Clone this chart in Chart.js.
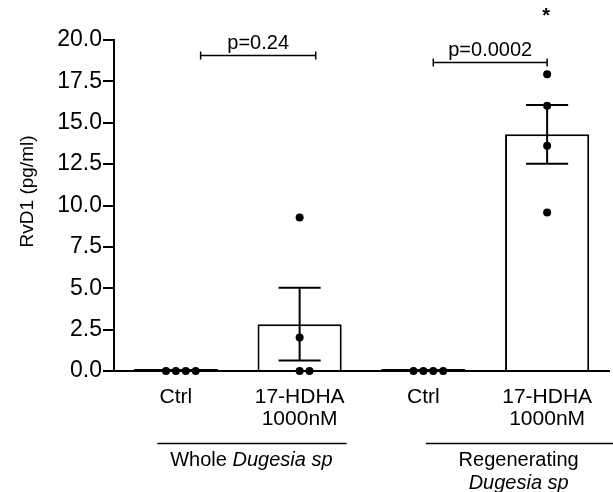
<!DOCTYPE html>
<html>
<head>
<meta charset="utf-8">
<script src="https://cdn.jsdelivr.net/npm/chart.js@4.4.1/dist/chart.umd.min.js"></script>
<style>
  body { margin: 0; background: #fff; }
</style>
</head>
<body>
<canvas id="rvd1Chart" width="613" height="492"></canvas>
<script>
// bar categories (multi-line labels)
const categories = [['Ctrl'], ['17-HDHA', '1000nM'], ['Ctrl'], ['17-HDHA', '1000nM']];
// mean and SEM per bar
const barMeans = [0, 2.83, 0, 14.3];
const barSem = [0, 2.2, 0, 1.78];
// individual animals: which bar, value, and Prism-style side step
const pointGroup = [0, 0, 0, 0, 1, 1, 1, 1, 2, 2, 2, 2, 3, 3, 3, 3];
const pointValues = [0, 0, 0, 0, 9.28, 2.02, 0, 0, 0, 0, 0, 0, 17.93, 16.03, 13.61, 9.58];
const pointStep = [-1, 0, 1, 2, 0, 0, 0, 1, -1, 0, 1, 2, 0, 0, 0, 0];
// y axis
const yMin = 0;
const yMax = 20;
const yStep = 2.5;
const yTitle = 'RvD1 (pg/ml)';
// comparisons: from bar, to bar, label
const compareFrom = [0, 2];
const compareTo = [1, 3];
const compareLabels = ['p=0.24', 'p=0.0002'];
const starBar = 3;
// group captions under the axis
const groupPlain = ['Whole ', 'Regenerating'];
const groupItalic = ['Dugesia sp', 'Dugesia sp'];

const FONT = '"Liberation Sans", Arial, Helvetica, sans-serif';
const STEP = 0.08; // one dot spacing in category units

const points = pointValues.map((v, i) => ({ x: pointGroup[i] + pointStep[i] * STEP, y: v }));

// error bars, brackets, captions, axis title
const annotations = {
  id: 'annotations',
  afterDatasetsDraw(chart) {
    const ctx = chart.ctx;
    const xs = chart.scales.xp;
    const ys = chart.scales.y;
    ctx.save();
    ctx.strokeStyle = '#000';
    ctx.fillStyle = '#000';
    ctx.lineWidth = 2;

    // SEM bars
    barMeans.forEach((m, i) => {
      if (!barSem[i]) return;
      const cx = xs.getPixelForValue(i);
      const hw = xs.getPixelForValue(i + 0.17) - cx;
      const top = ys.getPixelForValue(m + barSem[i]);
      const bot = ys.getPixelForValue(m - barSem[i]);
      ctx.beginPath();
      ctx.moveTo(cx, top); ctx.lineTo(cx, bot);
      ctx.moveTo(cx - hw, top); ctx.lineTo(cx + hw, top);
      ctx.moveTo(cx - hw, bot); ctx.lineTo(cx + hw, bot);
      ctx.stroke();
    });

    // p-value brackets
    const bracketY = [19.1, 18.7];
    const bracketStart = [0.2, 0.08];
    const bracketEnd = [0.13, 0];
    ctx.lineWidth = 1.5;
    ctx.font = '20px ' + FONT;
    ctx.textAlign = 'center';
    ctx.textBaseline = 'alphabetic';
    compareLabels.forEach((lab, k) => {
      const x1 = xs.getPixelForValue(compareFrom[k] + bracketStart[k]);
      const x2 = xs.getPixelForValue(compareTo[k] + bracketEnd[k]);
      const y = Math.round(ys.getPixelForValue(bracketY[k])) + 0.5;
      ctx.beginPath();
      ctx.moveTo(x1, y); ctx.lineTo(x2, y);
      ctx.moveTo(x1, y - 4); ctx.lineTo(x1, y + 4);
      ctx.moveTo(x2, y - 4); ctx.lineTo(x2, y + 4);
      ctx.stroke();
      ctx.fillText(lab, (x1 + x2) / 2, y - 7);
    });

    // significance star
    ctx.font = 'bold 20px ' + FONT;
    ctx.fillText('*', xs.getPixelForValue(starBar) - 1, 22);

    // group lines and captions
    const area = chart.chartArea;
    const lineY = area.bottom + 72.5;
    ctx.lineWidth = 1.5;
    ctx.beginPath();
    ctx.moveTo(xs.getPixelForValue(-0.15), lineY);
    ctx.lineTo(xs.getPixelForValue(1.38), lineY);
    ctx.moveTo(xs.getPixelForValue(2.02), lineY);
    ctx.lineTo(chart.width, lineY);
    ctx.stroke();

    ctx.textBaseline = 'middle';
    ctx.textAlign = 'left';
    // left group: plain + italic on one line
    const plainFont = '20px ' + FONT;
    const italFont = 'italic 20px ' + FONT;
    ctx.font = plainFont;
    const w1 = ctx.measureText(groupPlain[0]).width;
    ctx.font = italFont;
    const w2 = ctx.measureText(groupItalic[0]).width;
    let gx = xs.getPixelForValue(0.61) - (w1 + w2) / 2;
    ctx.font = plainFont;
    ctx.fillText(groupPlain[0], gx, area.bottom + 89);
    ctx.font = italFont;
    ctx.fillText(groupItalic[0], gx + w1, area.bottom + 89);
    // right group: two lines
    ctx.textAlign = 'center';
    const rx = xs.getPixelForValue(2.77);
    ctx.font = plainFont;
    ctx.fillText(groupPlain[1], rx, area.bottom + 89);
    ctx.font = italFont;
    ctx.fillText(groupItalic[1], rx, area.bottom + 112);

    // y axis title
    ctx.save();
    ctx.translate(28, ys.getPixelForValue(10.85));
    ctx.rotate(-Math.PI / 2);
    ctx.font = '19px ' + FONT;
    ctx.textAlign = 'center';
    ctx.textBaseline = 'middle';
    ctx.fillText(yTitle, 0, 0);
    ctx.restore();

    ctx.restore();
  }
};

new Chart(document.getElementById('rvd1Chart'), {
  type: 'bar',
  data: {
    labels: categories,
    datasets: [
      {
        type: 'scatter',
        data: points,
        xAxisID: 'xp',
        yAxisID: 'y',
        backgroundColor: '#000',
        borderColor: '#000',
        pointRadius: 4,
        pointBorderWidth: 0,
        showLine: false,
        clip: false
      },
      {
        type: 'bar',
        data: barMeans,
        xAxisID: 'x',
        yAxisID: 'y',
        backgroundColor: '#fff',
        borderColor: '#000',
        borderWidth: 2,
        // zero bars become a solid line, real bars sit open on the axis
        borderSkipped: c => (barMeans[c.dataIndex] === 0 ? false : 'start'),
        grouped: false,
        barPercentage: 0.68,
        categoryPercentage: 1,
        minBarLength: 2
      }
    ]
  },
  options: {
    responsive: false,
    animation: false,
    layout: { padding: { top: 40, left: 0, right: 0, bottom: 0 } },
    plugins: {
      legend: { display: false },
      tooltip: { enabled: false }
    },
    scales: {
      x: {
        type: 'category',
        offset: true,
        grid: { display: false, drawTicks: false },
        border: { display: true, color: '#000', width: 2 },
        ticks: {
          color: '#000',
          font: { family: FONT, size: 21, lineHeight: 1.05 },
          padding: 15,
          maxRotation: 0,
          autoSkip: false
        },
        afterFit(scale) { scale.height = 121; }
      },
      xp: {
        type: 'linear',
        display: false,
        min: -0.5,
        max: 3.5,
        offset: false
      },
      y: {
        min: yMin,
        max: yMax,
        border: { display: true, color: '#000', width: 2 },
        grid: { drawOnChartArea: false, drawTicks: true, color: '#000', lineWidth: 2, tickLength: 11 },
        ticks: {
          stepSize: yStep,
          color: '#000',
          padding: 1,
          font: { family: FONT, size: 23 },
          callback: v => v.toFixed(1)
        },
        afterFit(scale) { scale.width = 114; }
      }
    }
  },
  plugins: [annotations]
});
</script>
</body>
</html>
